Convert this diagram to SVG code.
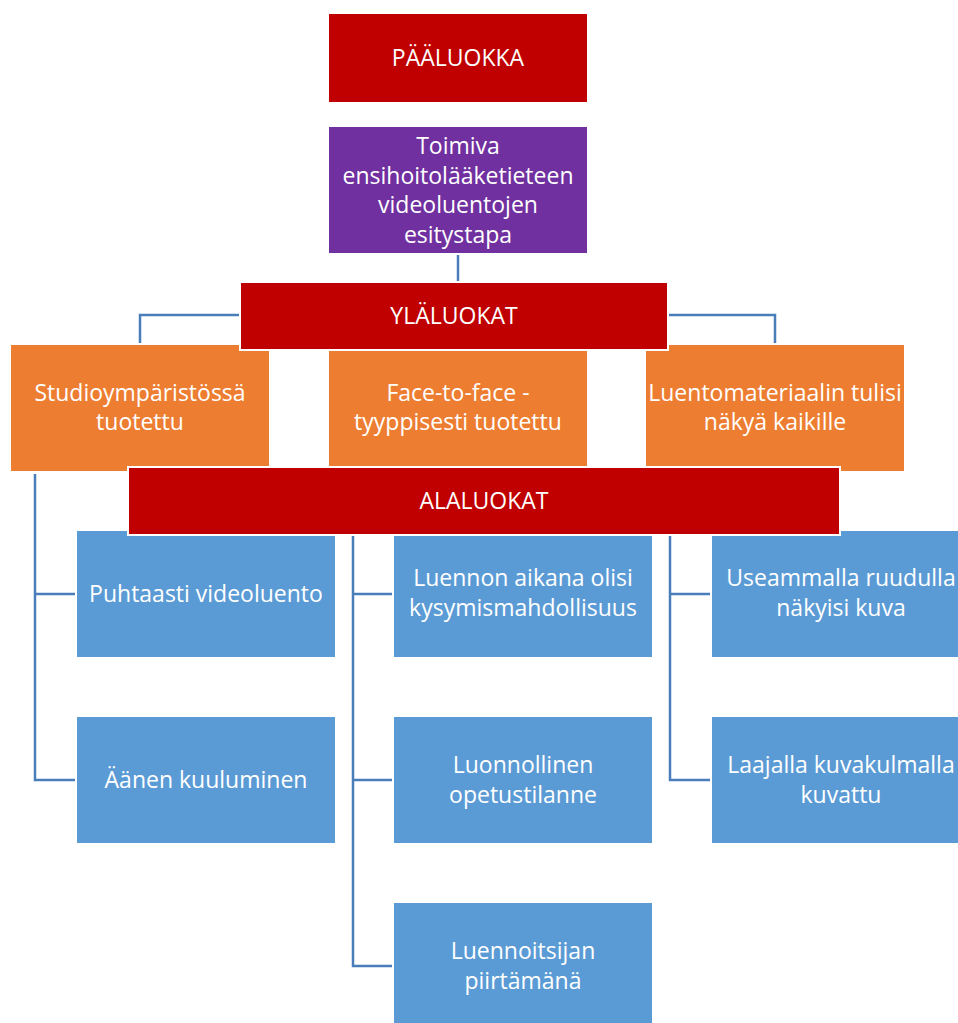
<svg xmlns="http://www.w3.org/2000/svg" width="958" height="1023" viewBox="0 0 958 1023">
<style>
.box{stroke:#ffffff;stroke-width:2}
.red{fill:#c00000}
.purple{fill:#7030a0}
.orange{fill:#ed7d31}
.blue{fill:#5b9bd5}
.t{font-family:"Open Sans","DejaVu Sans",sans-serif;font-size:23px;fill:#ffffff;text-anchor:middle}
.c{fill:none;stroke:#4a7ebb;stroke-width:2.5}
</style>
<rect width="958" height="1023" fill="#ffffff"/>
<g id="connectors">
<path class="c" d="M458,254 V283"/>
<path class="c" d="M240,315 H140 V344"/>
<path class="c" d="M668,315 H775 V344"/>
<path class="c" d="M35,474 V780 H76 M35,594 H76"/>
<path class="c" d="M353,536 V966 H393 M353,594 H393 M353,780 H393"/>
<path class="c" d="M670,536 V780 H711 M670,594 H711"/>
</g>
<g id="paaluokka"><rect class="box red" x="328" y="13" width="260" height="90"/><text class="t" x="458" y="66">PÄÄLUOKKA</text></g>
<g id="toimiva"><rect class="box purple" x="328" y="126" width="260" height="128"/>
<text class="t" x="458" y="154">Toimiva</text><text class="t" x="458" y="183.5">ensihoitolääketieteen</text><text class="t" x="458" y="213">videoluentojen</text><text class="t" x="458" y="242.5">esitystapa</text></g>
<g id="studio"><rect class="box orange" x="10" y="344" width="260" height="128"/><text class="t" x="140" y="401">Studioympäristössä</text><text class="t" x="140" y="430">tuotettu</text></g>
<g id="face"><rect class="box orange" x="328" y="344" width="260" height="128"/><text class="t" x="458" y="401">Face-to-face -</text><text class="t" x="458" y="430">tyyppisesti tuotettu</text></g>
<g id="luentomateriaali"><rect class="box orange" x="645" y="344" width="260" height="128"/><text class="t" x="775" y="401">Luentomateriaalin tulisi</text><text class="t" x="775" y="430">näkyä kaikille</text></g>
<g id="puhtaasti"><rect class="box blue" x="76" y="530" width="260" height="128"/><text class="t" x="206" y="602">Puhtaasti videoluento</text></g>
<g id="aanen"><rect class="box blue" x="76" y="716" width="260" height="128"/><text class="t" x="206" y="788">Äänen kuuluminen</text></g>
<g id="luennon"><rect class="box blue" x="393" y="530" width="260" height="128"/><text class="t" x="523" y="586">Luennon aikana olisi</text><text class="t" x="523" y="616">kysymismahdollisuus</text></g>
<g id="luonnollinen"><rect class="box blue" x="393" y="716" width="260" height="128"/><text class="t" x="523" y="773">Luonnollinen</text><text class="t" x="523" y="803">opetustilanne</text></g>
<g id="luennoitsijan"><rect class="box blue" x="393" y="902" width="260" height="128"/><text class="t" x="523" y="959">Luennoitsijan</text><text class="t" x="523" y="989">piirtämänä</text></g>
<g id="useammalla"><rect class="box blue" x="711" y="530" width="260" height="128"/><text class="t" x="841" y="586">Useammalla ruudulla</text><text class="t" x="841" y="616">näkyisi kuva</text></g>
<g id="laajalla"><rect class="box blue" x="711" y="716" width="260" height="128"/><text class="t" x="841" y="773">Laajalla kuvakulmalla</text><text class="t" x="841" y="803">kuvattu</text></g>
<g id="ylaluokat"><rect class="box red" x="240" y="282" width="428" height="68"/><text class="t" x="454" y="324">YLÄLUOKAT</text></g>
<g id="alaluokat"><rect class="box red" x="128" y="467" width="712" height="68"/><text class="t" x="484" y="509">ALALUOKAT</text></g>
</svg>
